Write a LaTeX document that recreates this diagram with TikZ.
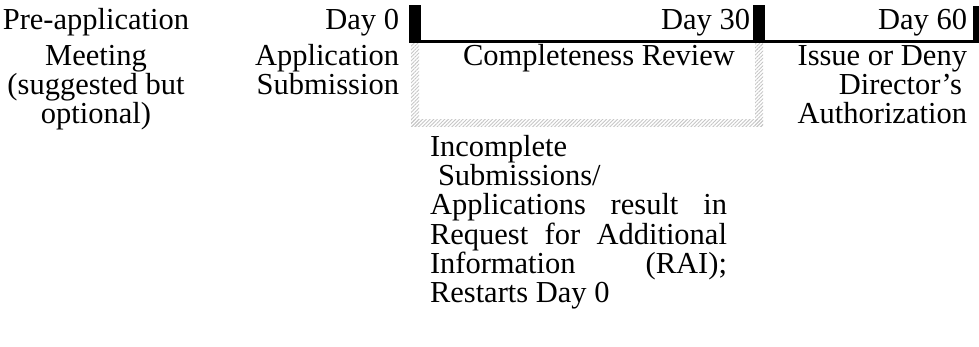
\documentclass[tikz,border=0pt]{standalone}
\usepackage{fontspec}
\setmainfont{Liberation Serif}
\usetikzlibrary{patterns.meta}
\tikzset{
  txt/.style={inner sep=0pt, outer sep=0pt, font=\fontsize{30.5}{29}\selectfont},
  hatch/.style={pattern={Lines[angle=45,distance=2.6pt,line width=0.9pt]}, pattern color=gray!45},
  barfill/.style={fill=black}
}
\begin{document}
\begin{tikzpicture}[x=1pt,y=-1pt]
\useasboundingbox (0,0) rectangle (979,347);
% hatched U-shaped frame
\fill[hatch] (411,44) rectangle (419,127);
\fill[hatch] (755,44) rectangle (763,127);
\fill[hatch] (411,120) rectangle (763,127);
% black timeline
\fill[barfill] (409,40) rectangle (979,43);
\fill[barfill] (409,5) rectangle (421,43);
\fill[barfill] (753,5) rectangle (765,43);
\fill[barfill] (973,6) rectangle (979,43);
% column 1
\node[txt, anchor=base] (p1) at (96,30) {Pre-application};
\node[txt, anchor=base] (p2) at (96,66) {Meeting};
\node[txt, anchor=base] (p3) at (96,95) {(suggested but};
\node[txt, anchor=base] (p4) at (96,124) {optional)};
% column 2
\node[txt, anchor=base east] (d0) at (399,30) {Day 0};
\node[txt, anchor=base east] (a1) at (399,66) {Application};
\node[txt, anchor=base east] (a2) at (399,95) {Submission};
% column 3
\node[txt, anchor=base east] (d30) at (750,30) {Day 30};
\node[txt, anchor=base west] (cr) at (463,66) {Completeness Review};
% column 4
\node[txt, anchor=base east] (d60) at (967,30) {Day 60};
\node[txt, anchor=base east] (i1) at (967,66) {Issue or Deny};
\node[txt, anchor=base east] (i2) at (962,95) {Director’s};
\node[txt, anchor=base east] (i3) at (967,124) {Authorization};
% bottom note
\node[txt, anchor=base west] (n1) at (430,157) {Incomplete};
\node[txt, anchor=base west] (n2) at (438,186) {Submissions/};
\node[txt, anchor=base west] (n3) at (430,215) {\makebox[297pt][s]{Applications result in}};
\node[txt, anchor=base west] (n4) at (430,244) {\makebox[297pt][s]{Request for Additional}};
\node[txt, anchor=base west] (n5) at (430,273) {\makebox[297pt][s]{Information (RAI);}};
\node[txt, anchor=base west] (n6) at (430,302) {Restarts Day 0};
\end{tikzpicture}
\end{document}
